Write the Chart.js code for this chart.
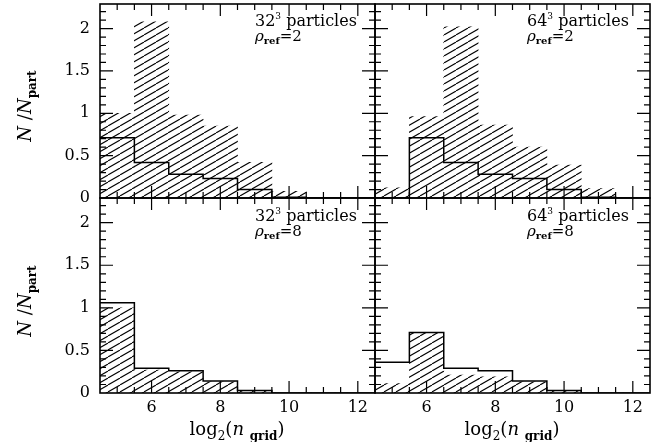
<!DOCTYPE html>
<html>
<head>
<meta charset="utf-8">
<script src="https://cdn.jsdelivr.net/npm/chart.js@4.4.1/dist/chart.umd.min.js"></script>
<style>
  html, body { margin: 0; padding: 0; background: #fff; }
  #wrap { position: relative; width: 657px; height: 442px; overflow: hidden; }
  #wrap canvas { position: absolute; left: 0; top: 0; }
  .txt { position: absolute; font-family: "DejaVu Serif", serif; color: #000; white-space: nowrap; line-height: 1; }
  .txt sub, .txt sup { line-height: 0; }
  .ann { font-size: 16px; }
  .ann sup { font-size: 9px; vertical-align: 7px; }
  .ann .rho { font-size: 15px; }
  .ann .rho sub { font-size: 10px; vertical-align: -3px; }
  .ytitle { font-size: 18px; transform: translate(-50%, -50%) rotate(-90deg); }
  .ytitle sub { font-size: 12px; vertical-align: -5px; }
  .xtitle { font-size: 18px; transform: translate(-50%, -50%); }
  .xtitle sub { font-size: 12px; vertical-align: -5px; }
</style>
</head>
<body>
<div id="wrap">
  <canvas id="c1" width="657" height="442"></canvas>
  <canvas id="c2" width="657" height="442"></canvas>
  <canvas id="c3" width="657" height="442"></canvas>
  <canvas id="c4" width="657" height="442"></canvas>

  <div class="txt ann" style="left:255px; top:13px"><div>32<sup>3</sup> particles</div><div class="rho"><i>ρ</i><sub><b>ref</b></sub>=2</div></div>
  <div class="txt ann" style="left:527px; top:13px"><div>64<sup>3</sup> particles</div><div class="rho"><i>ρ</i><sub><b>ref</b></sub>=2</div></div>
  <div class="txt ann" style="left:255px; top:208px"><div>32<sup>3</sup> particles</div><div class="rho"><i>ρ</i><sub><b>ref</b></sub>=8</div></div>
  <div class="txt ann" style="left:527px; top:208px"><div>64<sup>3</sup> particles</div><div class="rho"><i>ρ</i><sub><b>ref</b></sub>=8</div></div>

  <div class="txt ytitle" style="left:25px; top:106px"><i>N</i> /<i>N</i><sub><b>part</b></sub></div>
  <div class="txt ytitle" style="left:25px; top:301px"><i>N</i> /<i>N</i><sub><b>part</b></sub></div>
  <div class="txt xtitle" style="left:237px; top:429px">log<sub>2</sub>(<i>n</i> <sub><b>grid</b></sub>)</div>
  <div class="txt xtitle" style="left:512px; top:429px">log<sub>2</sub>(<i>n</i> <sub><b>grid</b></sub>)</div>
</div>

<script>
// bins are log2(n_grid) = 5 .. 12
const binCenters = [5, 6, 7, 8, 9, 10, 11, 12];
const xTickLabels = [6, 8, 10, 12];
const yTickLabels = [0, 0.5, 1, 1.5, 2];

// 32^3 particles, rho_ref = 2
const hatch32rho2 = [1.0, 2.08, 0.98, 0.85, 0.42, 0.08, 0, 0];
const step32rho2 = [0.71, 0.42, 0.28, 0.23, 0.10, 0.01, 0, 0];
// 64^3 particles, rho_ref = 2
const hatch64rho2 = [0.12, 0.96, 2.02, 0.86, 0.60, 0.39, 0.11, 0];
const step64rho2 = [0, 0.71, 0.42, 0.28, 0.23, 0.10, 0.01, 0];
// 32^3 particles, rho_ref = 8
const hatch32rho8 = [1.0, 0.27, 0.25, 0.13, 0.03, 0, 0, 0];
const step32rho8 = [1.06, 0.29, 0.26, 0.14, 0.03, 0, 0, 0];
// 64^3 particles, rho_ref = 8
const hatch64rho8 = [0.11, 0.70, 0.21, 0.19, 0.13, 0.03, 0, 0];
const step64rho8 = [0.36, 0.71, 0.29, 0.26, 0.14, 0.03, 0, 0];

const W = 657, H = 442;
const tickFont = { family: "DejaVu Serif", size: 16 };

// diagonal hatching used for the filled histograms
function makeHatch() {
  const c = document.createElement("canvas");
  c.width = 12;
  c.height = 7;
  const g = c.getContext("2d");
  g.strokeStyle = "#000";
  g.lineWidth = 1.1;
  [-12, 0, 12].forEach((dx) => {
    g.beginPath();
    g.moveTo(dx, 7);
    g.lineTo(dx + 12, 0);
    g.stroke();
  });
  return g.createPattern(c, "repeat");
}
const hatch = makeHatch();

// frame with inward ticks on all four sides
const framePlugin = {
  id: "frame",
  afterDatasetsDraw(chart) {
    const { ctx, chartArea: a } = chart;
    const x = chart.scales.x, y = chart.scales.y;
    ctx.save();
    ctx.strokeStyle = "#000";
    ctx.lineWidth = 1.2;
    ctx.beginPath();
    for (let k = 10; k <= 24; k++) {
      const v = k / 2;
      const px = x.getPixelForValue(v);
      const len = v % 2 === 0 ? 12 : 6;
      ctx.moveTo(px, a.bottom);
      ctx.lineTo(px, a.bottom - len);
      ctx.moveTo(px, a.top);
      ctx.lineTo(px, a.top + len);
    }
    for (let k = 1; k <= 22; k++) {
      const py = y.getPixelForValue(k / 10);
      const len = k % 5 === 0 ? 13 : 6;
      ctx.moveTo(a.left, py);
      ctx.lineTo(a.left + len, py);
      ctx.moveTo(a.right, py);
      ctx.lineTo(a.right - len, py);
    }
    ctx.stroke();
    ctx.lineWidth = 1.6;
    ctx.strokeRect(a.left, a.top, a.right - a.left, a.bottom - a.top);
    ctx.restore();
  },
};

function makePanel(id, area, hatchVals, stepVals, showX, showY) {
  const xh = showX ? 30 : 0;
  const yw = showY ? area.left : 0;
  const bars = binCenters.map((c, i) => ({ x: c, y: hatchVals[i] }));
  const steps = binCenters.map((c, i) => ({ x: c - 0.5, y: stepVals[i] }));
  steps.push({ x: binCenters[binCenters.length - 1] + 0.5, y: stepVals[stepVals.length - 1] });

  new Chart(document.getElementById(id), {
    type: "bar",
    data: {
      datasets: [
        {
          type: "line",
          data: steps,
          stepped: true,
          borderColor: "#000",
          borderWidth: 1.5,
          pointRadius: 0,
          fill: false,
          order: 0,
        },
        {
          type: "bar",
          data: bars,
          backgroundColor: hatch,
          borderWidth: 0,
          barPercentage: 1,
          categoryPercentage: 1,
          order: 1,
        },
      ],
    },
    options: {
      responsive: false,
      animation: false,
      events: [],
      layout: {
        padding: {
          left: area.left - yw,
          right: W - area.right,
          top: area.top,
          bottom: H - area.bottom - xh,
        },
      },
      plugins: { legend: { display: false }, tooltip: { enabled: false } },
      scales: {
        x: {
          type: "linear",
          min: 4.5,
          max: 12.5,
          offset: false,
          display: showX,
          grid: { display: false, drawTicks: false },
          border: { display: false },
          ticks: { font: tickFont, color: "#000", padding: 5, maxRotation: 0, callback: (v) => `${v}` },
          afterBuildTicks: (s) => { s.ticks = xTickLabels.map((v) => ({ value: v })); },
          afterFit: (s) => { s.height = xh; s.paddingLeft = 0; s.paddingRight = 0; },
        },
        y: {
          type: "linear",
          min: 0,
          max: 2.29,
          display: showY,
          grid: { display: false, drawTicks: false },
          border: { display: false },
          ticks: { font: tickFont, color: "#000", padding: 10, callback: (v) => `${v}` },
          afterBuildTicks: (s) => { s.ticks = yTickLabels.map((v) => ({ value: v })); },
          afterFit: (s) => { s.width = yw; s.paddingTop = 0; s.paddingBottom = 0; },
        },
      },
    },
    plugins: [framePlugin],
  });
}

makePanel("c1", { left: 100, right: 375, top: 4, bottom: 198 }, hatch32rho2, step32rho2, false, true);
makePanel("c2", { left: 375, right: 650, top: 4, bottom: 198 }, hatch64rho2, step64rho2, false, false);
makePanel("c3", { left: 100, right: 375, top: 198, bottom: 393 }, hatch32rho8, step32rho8, true, true);
makePanel("c4", { left: 375, right: 650, top: 198, bottom: 393 }, hatch64rho8, step64rho8, true, false);
</script>
</body>
</html>
